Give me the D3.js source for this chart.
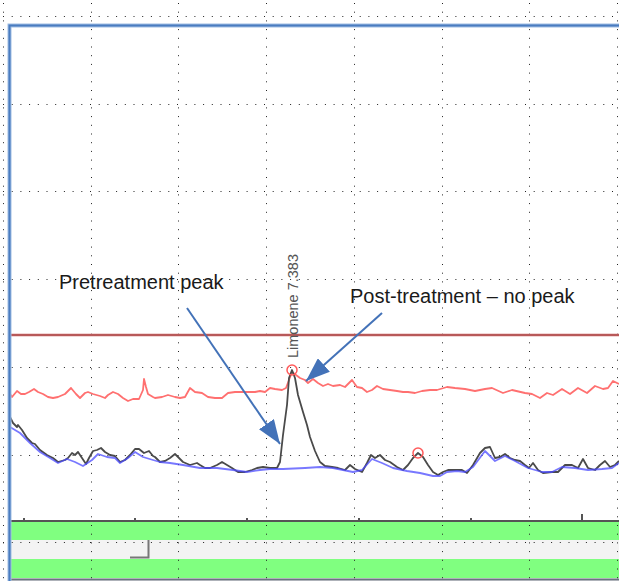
<!DOCTYPE html>
<html>
<head>
<meta charset="utf-8">
<script src="https://cdn.jsdelivr.net/npm/d3@7"></script>
<style>
  html, body { margin: 0; padding: 0; background: #fff; }
  svg { display: block; font-family: "Liberation Sans", Arial, sans-serif; }
</style>
</head>
<body>
<svg id="chart"></svg>
<script>
const width = 619;
const height = 581;

// Post-treatment trace (red) : [scan, abundance]
const postTreatment = [
  [7,127],[9,124],[14,130],[18,127],[22,127],[26,129],[31,132],[35,129],[40,127],[45,124],
  [50,123],[55,124],[62,127],[68,133],[73,127],[77,123],[82,128],[85,129],[90,127],[97,125],
  [102,123],[105,126],[110,129],[115,127],[120,123],[125,120],[130,122],[136,122],[140,131],[141,142],
  [143,134],[145,127],[150,124],[152,123],[159,124],[165,126],[172,124],[177,123],[182,124],[187,133],
  [192,129],[199,128],[205,124],[212,123],[219,123],[225,128],[232,129],[239,129],[245,129],[252,129],
  [257,130],[262,129],[267,133],[272,132],[279,131],[283,133],[286,141],[289,149],[293,146],[297,143],
  [302,141],[305,138],[310,142],[315,138],[320,135],[325,137],[330,135],[337,136],[342,134],[349,141],
  [354,134],[359,133],[364,129],[369,131],[374,135],[380,132],[387,131],[394,130],[400,129],[405,129],
  [412,128],[419,130],[427,131],[434,131],[444,134],[452,133],[462,132],[472,130],[482,132],[489,133],
  [500,128],[509,131],[522,128],[529,127],[537,123],[544,128],[550,126],[559,132],[567,127],[575,133],
  [584,128],[592,135],[600,132],[605,133],[610,140],[616,137]
];

// Pretreatment trace (black)
const pretreatment = [
  [7,104],[10,98],[14,94],[15,96],[19,91],[24,83],[29,78],[32,77],[37,71],[44,66],
  [50,63],[55,59],[62,61],[65,63],[69,68],[72,66],[75,69],[79,63],[83,57],[86,63],
  [90,70],[94,71],[98,73],[102,69],[107,66],[112,65],[117,59],[122,61],[127,66],[132,72],
  [136,72],[141,68],[146,70],[150,65],[152,64],[157,59],[162,60],[167,63],[172,67],[175,64],
  [180,59],[187,56],[194,58],[197,56],[202,53],[207,53],[214,56],[219,59],[224,56],[229,53],
  [235,49],[242,49],[249,51],[254,53],[260,54],[267,53],[274,53],[277,59],[280,86],[284,116],
  [286,143],[289,151],[292,143],[295,126],[300,109],[304,96],[307,84],[312,70],[317,59],[322,55],
  [329,54],[335,53],[342,51],[347,56],[352,52],[359,49],[364,58],[368,66],[372,63],[377,66],
  [382,61],[387,59],[394,54],[400,51],[405,56],[410,63],[415,68],[420,64],[425,56],[430,49],
  [435,46],[440,49],[445,51],[452,51],[459,51],[464,48],[470,56],[477,68],[482,73],[487,74],
  [492,63],[497,64],[502,67],[507,63],[512,61],[517,60],[522,56],[526,53],[530,58],[535,51],
  [540,48],[549,49],[555,49],[562,56],[569,56],[575,53],[580,62],[585,53],[592,51],[597,56],
  [602,60],[607,54],[612,56],[616,60]
];

// Baseline (blue)
const baseline = [
  [7,94],[17,88],[27,78],[37,69],[47,63],[55,58],[64,62],[72,59],[80,55],[89,61],
  [95,67],[104,64],[112,63],[117,58],[125,63],[132,69],[140,64],[150,61],[157,59],[167,58],
  [180,56],[197,53],[214,53],[230,51],[244,49],[257,51],[267,52],[280,52],[302,53],[317,54],
  [330,53],[340,51],[350,49],[359,51],[369,62],[379,58],[390,53],[404,50],[417,48],[430,45],
  [437,45],[444,49],[454,50],[462,49],[470,54],[482,70],[492,60],[502,65],[512,60],[525,53],
  [539,49],[549,49],[559,54],[572,53],[585,51],[599,52],[609,53],[616,58]
];

// Detected peaks (red circles)
const peaks = [[289,151],[415,68]];
const peakLabel = "Limonene 7.383";
const thresholdLevel = 186;
const axisTicks = [21, 132, 244, 356, 468, 579];

const svg = d3.select('#chart').attr('width', width).attr('height', height);

const x = d3.scaleLinear().domain([0, 614]).range([3, 617]);
const y = d3.scaleLinear().domain([0, 496]).range([521, 25]);

svg.append('rect').attr('width', width).attr('height', height).attr('fill', '#fff');

// bottom bands
svg.append('rect').attr('x', 9).attr('y', 522).attr('width', width - 9).attr('height', 59).attr('fill', '#f3f3f3');
svg.append('rect').attr('x', 9).attr('y', 522).attr('width', width - 9).attr('height', 18).attr('fill', '#80ff80');
svg.append('rect').attr('x', 9).attr('y', 559).attr('width', width - 9).attr('height', 19).attr('fill', '#80ff80');
svg.append('line').attr('x1', 9).attr('x2', width).attr('y1', 579.5).attr('y2', 579.5)
  .attr('stroke', '#6a7380').attr('stroke-width', 2);
// small handle in the gray band
svg.append('path').attr('d', 'M130,557.5 H148.5 V540')
  .attr('fill', 'none').attr('stroke', '#777').attr('stroke-width', 2);

// dotted grid
const gridX = d3.range(8).map(i => i * 614 / 7);
const gridY = d3.range(7).map(k => 505 - k * 87.7);
const grid = svg.append('g').attr('stroke', '#222').attr('stroke-width', 1).attr('stroke-dasharray', '1,7.7');
grid.selectAll('.gx').data(gridX).enter().append('line')
  .attr('x1', d => Math.round(x(d)) + 0.5).attr('x2', d => Math.round(x(d)) + 0.5)
  .attr('y1', 3).attr('y2', height);
grid.selectAll('.gy').data(gridY).enter().append('line')
  .attr('y1', d => Math.round(y(d)) + 0.5).attr('y2', d => Math.round(y(d)) + 0.5)
  .attr('x1', 3).attr('x2', width);

// threshold line
svg.append('line').attr('x1', 9).attr('x2', width)
  .attr('y1', y(thresholdLevel)).attr('y2', y(thresholdLevel))
  .attr('stroke', '#e8b0b0').attr('stroke-width', 3);
svg.append('line').attr('x1', 9).attr('x2', width)
  .attr('y1', y(thresholdLevel)).attr('y2', y(thresholdLevel))
  .attr('stroke', '#a83c3c').attr('stroke-width', 1.3);

// traces
svg.append('clipPath').attr('id', 'plot').append('rect')
  .attr('x', 10).attr('y', 26).attr('width', width - 10).attr('height', 495);
const line = d3.line().x(d => x(d[0])).y(d => y(d[1]));
const traces = svg.append('g').attr('clip-path', 'url(#plot)').attr('fill', 'none')
  .attr('stroke-linejoin', 'round');
traces.append('path').datum(postTreatment).attr('d', line)
  .attr('stroke', '#ff7070').attr('stroke-width', 1.8);
traces.append('path').datum(pretreatment).attr('d', line)
  .attr('stroke', '#4a4a4a').attr('stroke-width', 1.8);
traces.append('path').datum(baseline).attr('d', line)
  .attr('stroke', '#4b4bff').attr('stroke-width', 1.8).attr('opacity', 0.75);

svg.selectAll('.peak').data(peaks).enter().append('circle')
  .attr('cx', d => x(d[0])).attr('cy', d => y(d[1])).attr('r', 5)
  .attr('fill', 'none').attr('stroke', '#ff5a5a').attr('stroke-width', 1.5);

svg.append('text')
  .attr('transform', `translate(${x(peaks[0][0]) + 6},${y(peaks[0][1]) - 12}) rotate(-90)`)
  .attr('font-size', 14.5).attr('fill', '#555').text(peakLabel);

// bottom axis line and ticks
const axis = svg.append('g').attr('transform', 'translate(0,521)');
axis.append('line').attr('x1', 9).attr('x2', width).attr('stroke', '#555').attr('stroke-width', 2);
axis.selectAll('.tk').data(axisTicks).enter().append('line')
  .attr('x1', d => x(d)).attr('x2', d => x(d))
  .attr('y1', (d, i) => i === axisTicks.length - 1 ? -7 : -3).attr('y2', 0)
  .attr('stroke', '#555').attr('stroke-width', 2);

// plot frame (left and top)
svg.append('path').attr('d', `M9.5,${height} V25.5 H${width}`)
  .attr('fill', 'none').attr('stroke', '#9fbde3').attr('stroke-width', 4);
svg.append('path').attr('d', `M9.5,${height} V25.5 H${width}`)
  .attr('fill', 'none').attr('stroke', '#4a7cc0').attr('stroke-width', 2);

// annotations
const defs = svg.append('defs');
defs.append('marker').attr('id', 'head').attr('markerUnits', 'userSpaceOnUse')
  .attr('viewBox', '0 0 24 18').attr('refX', 24).attr('refY', 9)
  .attr('markerWidth', 24).attr('markerHeight', 18).attr('orient', 'auto')
  .append('path').attr('d', 'M0,0 L24,9 L0,18 Z').attr('fill', '#4372b8');

const arrows = [
  { from: [184, 213], to: [277, 77] },
  { from: [379, 208], to: [303, 140] }
];
svg.selectAll('.arrow').data(arrows).enter().append('line')
  .attr('x1', d => x(d.from[0])).attr('y1', d => y(d.from[1]))
  .attr('x2', d => x(d.to[0])).attr('y2', d => y(d.to[1]))
  .attr('stroke', '#4372b8').attr('stroke-width', 2).attr('marker-end', 'url(#head)');

svg.append('text').attr('x', x(56)).attr('y', y(232))
  .attr('font-size', 20).attr('fill', '#1a1a1a').text('Pretreatment peak');
svg.append('text').attr('x', x(347)).attr('y', y(218))
  .attr('font-size', 20).attr('fill', '#1a1a1a').text('Post-treatment \u2013 no peak');
</script>
</body>
</html>
